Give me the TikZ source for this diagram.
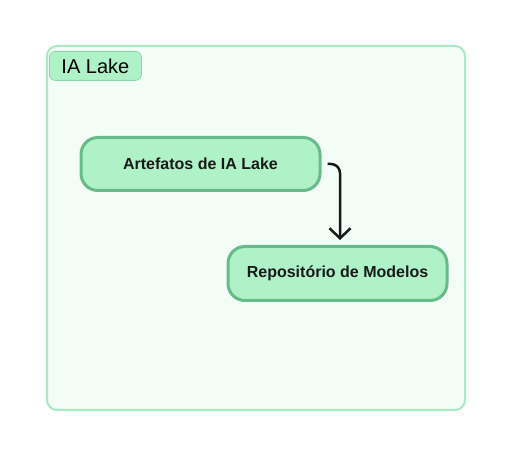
\documentclass[tikz,border=0pt]{standalone}
\usepackage{fontspec}
\setmainfont{Liberation Sans}
\usetikzlibrary{arrows.meta}

\definecolor{lakeFill}{RGB}{243,252,246}
\definecolor{lakeDraw}{RGB}{170,234,192}
\definecolor{boxFill}{RGB}{176,242,200}
\definecolor{boxDraw}{RGB}{102,187,136}
\definecolor{tagDraw}{RGB}{140,214,170}

\tikzset{every picture/.style={line width=0.75pt}}
\tikzset{
  artbox/.style={draw=boxDraw, fill=boxFill, line width=3pt, rounded corners=17pt,
    inner sep=0pt, font=\fontsize{16}{18}\selectfont\bfseries, text=black!90},
  flowarrow/.style={draw=black!90, line width=2.5pt, rounded corners=9pt,
    -{Straight Barb[length=10pt,width=21pt,line width=2.5pt]}}
}

\begin{document}
\begin{tikzpicture}[x=1pt,y=1pt,yscale=-1,xscale=1]
\useasboundingbox (0,0) rectangle (512,457);

%Shape: Lake frame
\draw [draw=lakeDraw, fill=lakeFill, line width=2pt, rounded corners=10pt] (47,46) rectangle (465,410);

% Text Node
\node (lake) [draw=tagDraw, fill=boxFill, line width=0.8pt, rounded corners=6pt, anchor=north west,
  minimum width=92pt, minimum height=29pt, inner sep=0pt, font=\fontsize{20}{22}\selectfont] at (49,51) {IA Lake};

% Artefatos
\node (art) [artbox, minimum width=239pt, minimum height=53pt] at (200.5,164) {Artefatos de IA Lake};
% Repositorio
\node (repo) [artbox, minimum width=219pt, minimum height=54pt] at (337.5,273.5) {Repositório de Modelos};

%Straight Lines
\draw [flowarrow] ([xshift=6pt]art.east) -| ([xshift=2.5pt,yshift=-5pt]repo.north);
\end{tikzpicture}
\end{document}
